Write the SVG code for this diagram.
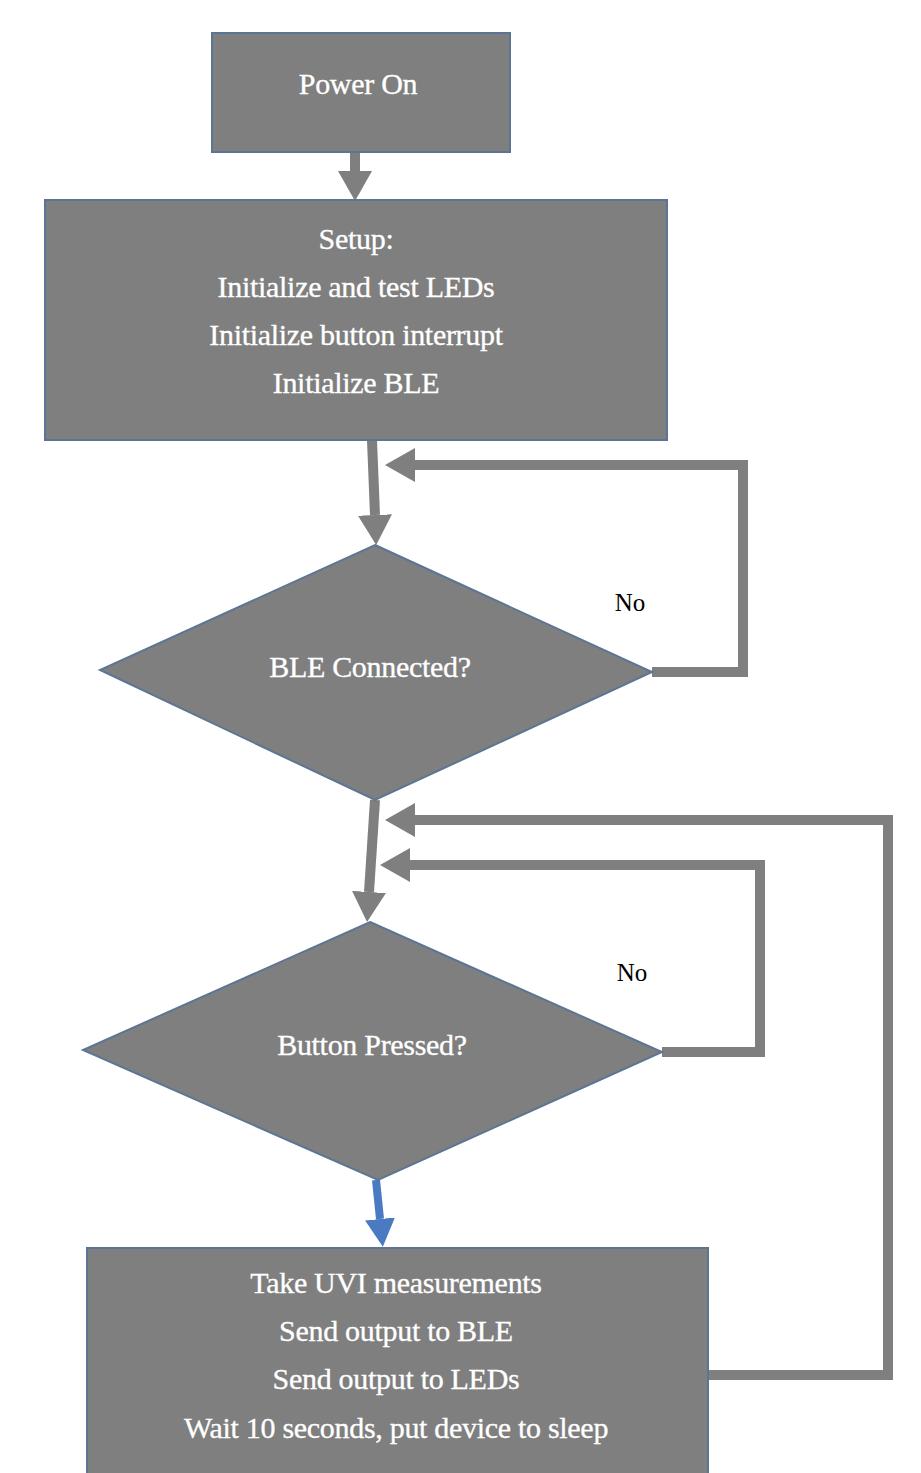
<svg xmlns="http://www.w3.org/2000/svg" width="921" height="1473" viewBox="0 0 921 1473">
<defs>
<style>
.box{fill:#7f7f7f;stroke:#5d7594;stroke-width:2}
.t{font-family:"Liberation Serif","Times New Roman",serif;font-size:30px;letter-spacing:-0.3px;fill:#ffffff;text-anchor:middle;stroke:#ffffff;stroke-width:0.3}
.lbl{font-family:"Liberation Serif","Times New Roman",serif;font-size:25px;fill:#000000;text-anchor:middle}
.c{fill:none;stroke:#7f7f7f;stroke-width:10;stroke-linejoin:miter}
.cb{fill:none;stroke:#4a7bc2;stroke-width:8}
</style>
<marker id="ah" viewBox="0 0 30 34" refX="0" refY="17" markerWidth="30" markerHeight="34" markerUnits="userSpaceOnUse" orient="auto">
<path d="M0,0 L30,17 L0,34 z" fill="#7f7f7f"/>
</marker>
<marker id="ahb" viewBox="0 0 28 30" refX="0" refY="15" markerWidth="28" markerHeight="30" markerUnits="userSpaceOnUse" orient="auto">
<path d="M0,0 L28,15 L0,30 z" fill="#4a7bc2"/>
</marker>
</defs>
<g id="connectors">
<path class="c" d="M355,152 L355,171" marker-end="url(#ah)"/>
<path class="c" d="M372,440 L375,515" marker-end="url(#ah)"/>
<path class="c" d="M652,672 L743,672 L743,465 L415,465" marker-end="url(#ah)"/>
<path class="c" d="M375,800 L369,892" marker-end="url(#ah)"/>
<path class="c" d="M662,1052 L760,1052 L760,865 L410,865" marker-end="url(#ah)"/>
<path class="c" d="M708,1375 L888,1375 L888,820 L415,820" marker-end="url(#ah)"/>
<path class="cb" d="M376,1180 L380,1219" marker-end="url(#ahb)"/>
</g>
<g id="power-on">
<rect class="box" x="212" y="33" width="298" height="119"/>
<text class="t" x="358" y="94">Power On</text>
</g>
<g id="setup">
<rect class="box" x="45" y="200" width="622" height="240"/>
<text class="t" x="356" y="249">Setup:</text>
<text class="t" x="356" y="297">Initialize and test LEDs</text>
<text class="t" x="356" y="345">Initialize button interrupt</text>
<text class="t" x="356" y="393">Initialize BLE</text>
</g>
<g id="ble-connected">
<polygon class="box" points="375,545 652,672 375,800 100,670"/>
<text class="t" x="370" y="677">BLE Connected?</text>
</g>
<g id="label-no-1">
<text class="lbl" x="630" y="611">No</text>
</g>
<g id="button-pressed">
<polygon class="box" points="370,922 662,1052 378,1180 83,1050"/>
<text class="t" x="372" y="1055">Button Pressed?</text>
</g>
<g id="label-no-2">
<text class="lbl" x="632" y="981">No</text>
</g>
<g id="process">
<rect class="box" x="87" y="1248" width="621" height="230"/>
<text class="t" x="396" y="1293">Take UVI measurements</text>
<text class="t" x="396" y="1341">Send output to BLE</text>
<text class="t" x="396" y="1389">Send output to LEDs</text>
<text class="t" x="396" y="1438">Wait 10 seconds, put device to sleep</text>
</g>
</svg>
